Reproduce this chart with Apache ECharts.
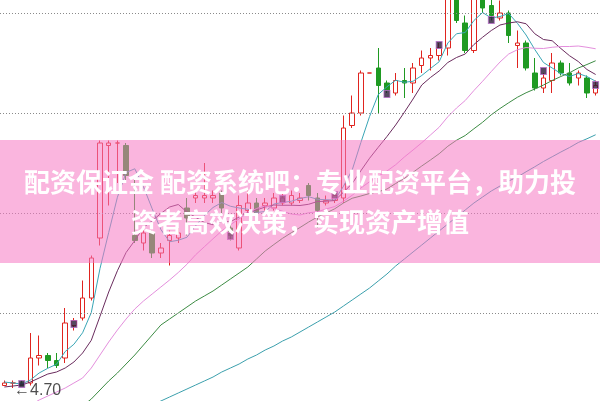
<!DOCTYPE html>
<html><head><meta charset="utf-8">
<script src="https://cdn.jsdelivr.net/npm/echarts@6/dist/echarts.min.js"></script>
<style>html,body{margin:0;padding:0;background:#fff}#c{width:600px;height:401px}</style>
</head><body><div id="c"></div>
<script>
const days = Array.from({length: 69}, (_, i) => 'D' + (i + 1));
const opens = [4.71,4.72,4.72,4.72,4.82,4.83,4.81,4.82,4.95,4.98, 5.06,5.30,5.67,5.68,5.67,5.31,5.28,5.32,5.24,5.29, 5.30,5.42,5.46,5.46,5.46,5.48,5.34,5.26,5.41,5.44, 5.43,5.42,5.44,5.44,5.45,5.51,5.46,5.44,5.45,5.46, 5.75,5.80,5.96,5.98,5.92,5.88,5.93,5.92,5.99,6.02, 6.03,6.06,6.28,6.16,6.05,6.28,6.23,6.18,6.20,6.07, 6.08,5.96,5.90,5.93,6.00,5.96,5.94,5.94,5.88];
const closes = [4.72,4.72,4.71,4.82,4.83,4.81,4.79,4.96,4.97,5.06, 5.22,5.68,5.68,5.68,5.55,5.29,5.32,5.24,5.26,5.31, 5.32,5.38,5.47,5.47,5.47,5.42,5.31,5.43,5.44,5.40, 5.44,5.46,5.46,5.47,5.46,5.47,5.41,5.45,5.47,5.74, 5.80,5.96,5.96,5.91,5.89,5.93,5.92,5.98,6.02,6.03, 6.06,6.30,6.17,6.05,6.27,6.22,6.19,6.20,6.11,6.08, 5.98,5.90,5.94,6.00,5.96,5.92,5.96,5.88,5.91];
const lows = [4.71,4.70,4.71,4.71,4.79,4.78,4.78,4.80,4.93,4.97, 5.05,5.27,5.43,5.52,5.52,5.28,5.25,5.22,5.22,5.19, 5.28,5.31,5.44,5.44,5.44,5.40,5.29,5.25,5.40,5.39, 5.41,5.41,5.43,5.43,5.44,5.45,5.34,5.43,5.44,5.44, 5.74,5.79,5.96,5.80,5.88,5.87,5.86,5.88,5.96,5.97, 6.01,6.03,6.16,6.04,6.04,6.20,6.17,6.17,6.08,5.98, 5.97,5.89,5.88,5.88,5.95,5.91,5.91,5.86,5.87];
const highs = [4.73,4.73,4.73,4.92,4.91,4.84,4.84,5.02,4.98,5.13, 5.23,5.69,5.69,5.69,5.68,5.54,5.34,5.33,5.28,5.33, 5.34,5.46,5.49,5.60,5.49,5.49,5.36,5.47,5.49,5.46, 5.46,5.48,5.48,5.49,5.48,5.52,5.48,5.47,5.48,5.79, 5.87,5.97,5.96,6.06,5.93,5.96,5.98,6.00,6.05,6.06, 6.08,6.33,6.32,6.19,6.30,6.31,6.27,6.25,6.21,6.13, 6.09,6.02,5.96,6.04,6.01,6.00,5.97,5.95,5.93];
const ma5 = [4.724,4.720,4.716,4.732,4.760,4.779,4.795,4.846,4.875,4.921, 5.002,5.178,5.322,5.463,5.562,5.577,5.505,5.417,5.334,5.285, 5.291,5.303,5.349,5.390,5.422,5.442,5.427,5.420,5.415,5.402, 5.406,5.436,5.442,5.447,5.458,5.465,5.455,5.453,5.452,5.507, 5.572,5.682,5.786,5.874,5.905,5.931,5.923,5.927,5.950,5.978, 6.005,6.080,6.117,6.122,6.170,6.202,6.180,6.186,6.198,6.159, 6.112,6.054,6.002,5.980,5.958,5.946,5.958,5.946,5.927];
const ma10 = [4.704,4.708,4.712,4.724,4.740,4.756,4.764,4.780,4.804,4.840, 4.891,4.987,5.084,5.169,5.242,5.290,5.342,5.369,5.398,5.424, 5.434,5.404,5.383,5.362,5.353,5.366,5.365,5.384,5.402,5.412, 5.424,5.432,5.431,5.431,5.430,5.435,5.446,5.447,5.450,5.483, 5.518,5.569,5.619,5.663,5.706,5.752,5.803,5.856,5.912,5.942, 5.968,6.002,6.022,6.036,6.074,6.103,6.130,6.152,6.160,6.165, 6.157,6.117,6.094,6.089,6.058,6.029,6.006,5.974,5.954];
const ma20 = [4.584,4.600,4.616,4.632,4.652,4.668,4.684,4.700,4.720,4.740, 4.780,4.832,4.884,4.932,4.976,5.016,5.048,5.076,5.104,5.132, 5.162,5.195,5.233,5.265,5.297,5.328,5.353,5.377,5.400,5.418, 5.429,5.418,5.407,5.396,5.392,5.401,5.405,5.416,5.426,5.447, 5.471,5.500,5.525,5.547,5.568,5.593,5.624,5.652,5.681,5.712, 5.743,5.785,5.820,5.850,5.890,5.927,5.966,6.004,6.036,6.053, 6.062,6.059,6.058,6.063,6.066,6.066,6.068,6.063,6.057];
const ma30 = ['-','-','-','-','-','-','-','-',4.604,4.628, 4.656,4.692,4.728,4.760,4.796,4.832,4.872,4.912,4.952,4.976, 5.000,5.024,5.048,5.068,5.088,5.112,5.136,5.160,5.184,5.216, 5.248,5.274,5.299,5.321,5.342,5.364,5.384,5.400,5.417,5.440, 5.459,5.468,5.478,5.485,5.496,5.518,5.538,5.563,5.588,5.612, 5.637,5.667,5.691,5.710,5.737,5.763,5.793,5.818,5.841,5.863, 5.881,5.896,5.912,5.930,5.946,5.961,5.980,5.994,6.009];
const ma60 = ['-','-','-','-','-','-','-','-','-','-', '-','-','-','-','-','-','-',4.632,4.648,4.664, 4.680,4.696,4.712,4.728,4.744,4.764,4.780,4.796,4.816,4.832, 4.852,4.868,4.888,4.904,4.924,4.944,4.964,4.984,5.004,5.028, 5.052,5.076,5.100,5.128,5.156,5.188,5.216,5.244,5.272,5.300, 5.328,5.356,5.384,5.412,5.440,5.464,5.488,5.508,5.528,5.544, 5.565,5.585,5.606,5.625,5.644,5.662,5.682,5.697,5.713];
const markerDays = [2, 8, 26, 32, 38, 44, 50, 56, 62, 68];
const markerPrices = [4.716, 4.956, 5.308, 5.456, 5.472, 5.876, 6.072, 6.172, 5.968, 5.912];
const gridPrices = [6.2, 5.8, 5.4, 5.0];
const titleLines = ['配资保证金 配资系统吧：专业配资平台，助力投', '资者高效决策，实现资产增值'];

const candles = opens.map((o, i) => [o, closes[i], lows[i], highs[i]]);
const minLow = Math.min(...lows);
const minIdx = lows.indexOf(minLow);

const chart = echarts.init(document.getElementById('c'), null, {renderer: 'canvas'});
function maSeries(name, data, color) {
  return {name, type: 'line', data, symbol: 'none', smooth: false, z: 3,
    lineStyle: {color, width: 1}, silent: true};
}
chart.setOption({
  animation: false,
  backgroundColor: '#ffffff',
  grid: {left: -1, right: -2, top: 0, bottom: 0},
  xAxis: {type: 'category', data: days, show: false, boundaryGap: true},
  yAxis: {type: 'value', min: 4.648, max: 6.252, show: false, splitLine: {show: false}},
  series: [
    {type: 'candlestick', data: candles, barWidth: 5, z: 2,
      itemStyle: {color: '#ffffff', borderColor: '#e0241f', color0: '#1f9a22', borderColor0: '#1f9a22', borderColorDoji: '#e0241f', borderWidth: 1},
      markLine: {silent: true, symbol: 'none', label: {show: false},
        lineStyle: {type: [1, 2], color: '#8a8a8a', width: 1},
        data: gridPrices.map(v => ({yAxis: v}))}
    },
    maSeries('MA5', ma5, '#3aa6b6'),
    maSeries('MA10', ma10, '#6a2c5e'),
    maSeries('MA20', ma20, '#e48fdd'),
    maSeries('MA30', ma30, '#3d8c44'),
    maSeries('MA60', ma60, '#3ba0ad'),
    {type: 'scatter', data: markerDays.map((d, i) => [d, markerPrices[i]]), symbol: 'rect', symbolSize: [6, 7], z: 4,
      itemStyle: {color: '#2b1b38', borderColor: '#b86cc8', borderWidth: 1}},
    {type: 'scatter', data: [[minIdx, minLow]], symbolSize: 0, z: 5,
      label: {show: true, position: 'right', distance: 1, offset: [0, 3],
        formatter: '←' + minLow.toFixed(2), color: '#222', fontSize: 16, fontFamily: 'Arial'}}
  ],
  graphic: [
    {type: 'rect', left: 0, top: 140, z: 100, shape: {width: 600, height: 123}, style: {fill: 'rgba(245,120,195,0.55)'}},
    {type: 'text', x: 300, y: 182, z: 101, style: {text: titleLines[0], fill: '#ffffff', align: 'center', verticalAlign: 'middle', fontSize: 26, fontWeight: 'bold', fontFamily: '"Noto Sans CJK SC"'}},
    {type: 'text', x: 300, y: 222, z: 101, style: {text: titleLines[1], fill: '#ffffff', align: 'center', verticalAlign: 'middle', fontSize: 26, fontWeight: 'bold', fontFamily: '"Noto Sans CJK SC"'}}
  ]
});
</script></body></html>
